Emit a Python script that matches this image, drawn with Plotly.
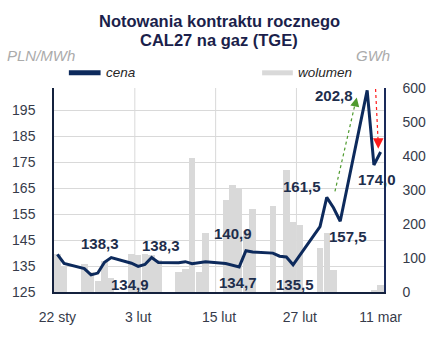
import pandas as pd
import plotly.graph_objects as go

# Sesje notowań CAL27 (dni robocze)
trade_dates = [
    "2026-01-22", "2026-01-23", "2026-01-26", "2026-01-27", "2026-01-28",
    "2026-01-29", "2026-01-30", "2026-02-02", "2026-02-03", "2026-02-04",
    "2026-02-05", "2026-02-06", "2026-02-09", "2026-02-10", "2026-02-11",
    "2026-02-12", "2026-02-13", "2026-02-16", "2026-02-17", "2026-02-18",
    "2026-02-19", "2026-02-20", "2026-02-23", "2026-02-24", "2026-02-25",
    "2026-02-26", "2026-02-27", "2026-03-02", "2026-03-03", "2026-03-04",
    "2026-03-05", "2026-03-06", "2026-03-09", "2026-03-10", "2026-03-11",
]

# cena, PLN/MWh
price = [
    139.5, 136.0, 134.0, 131.6, 132.3,
    136.5, 138.3, 136.1, 134.9, 135.6,
    138.3, 136.4, 136.3, 136.7, 135.9,
    136.3, 136.7, 136.0, 135.3, 134.7,
    140.9, 140.4, 140.0, 138.8, 138.5,
    135.5, None, 150.2, 161.5, 157.5,
    152.3, None, 202.8, 174.0, 179.0,
]

# wolumen, GWh
volume = [
    111, 77, 83, 58, 32,
    92, 40, 111, 108, 111,
    110, 95, 60, 67, 393,
    59, 173, 270, 314, 307,
    180, 244, 252, None, 358,
    207, 197, 128, 173, 65,
    None, None, None, 5, 20,
]

# etykiety osi X
tick_dates = ["2026-01-22", "2026-02-03", "2026-02-15", "2026-02-27", "2026-03-11"]
tick_text = ["22 sty", "3 lut", "15 lut", "27 lut", "11 mar"]

# sesje opisane wartością ceny
labelled = ["2026-01-30", "2026-02-03", "2026-02-05", "2026-02-19", "2026-02-18",
            "2026-02-26", "2026-03-03", "2026-03-04", "2026-03-09", "2026-03-10"]

# --- layout geometry (px) ---
W, H = 438, 337
L, R, T, B = 52, 53, 88, 34
PW, PH = W - L - R, H - T - B


def fx(px):
    return (px - L) / PW


def fy(py):
    return (H - B - py) / PH


NAVY = "#0d2a5c"
LABEL = "#1e2e4c"
TICK = "#363b4a"
GRID = "#d9d9d9"
BAR = "#d9d9d9"
FONT = "Liberation Sans"

dates = pd.to_datetime(trade_dates)
day_ms = 86400000

fig = go.Figure()

fig.add_trace(go.Bar(
    x=dates, y=volume, width=0.96 * day_ms,
    marker=dict(color=BAR, line=dict(width=0)),
    yaxis="y", showlegend=False, hoverinfo="skip",
))

fig.add_trace(go.Scatter(
    x=dates, y=price, mode="lines", connectgaps=True,
    line=dict(color=NAVY, width=3),
    yaxis="y2", showlegend=False,
))

# vertical gridlines between sessions, every 12 days
start = pd.Timestamp("2026-01-21 12:00")
for k in (1, 2, 3):
    gx = start + pd.Timedelta(days=12 * k)
    fig.add_shape(type="line", xref="x", yref="paper", x0=gx, x1=gx, y0=0, y1=1,
                  line=dict(color=GRID, width=1), layer="below")

# value labels on the price line
offsets = [(-11, 14), (-8, -18), (9, 12), (-13, 17), (-1, -16),
           (2, -20), (-25, 11), (15, -29), (-33, -5), (3, -15)]
price_by_date = dict(zip(trade_dates, price))
for d, (dx, dy) in zip(labelled, offsets):
    v = price_by_date[d]
    fig.add_annotation(
        x=pd.Timestamp(d), y=v, xref="x", yref="y2",
        text=f"{v:.1f}".replace(".", ","), showarrow=False,
        xshift=dx, yshift=dy,
        font=dict(family=FONT, size=15, color=LABEL, weight="bold"),
    )

# dotted trend arrows
fig.add_shape(type="line", xref="paper", yref="paper",
              x0=fx(335.5), y0=fy(197), x1=fx(356), y1=fy(104),
              line=dict(color="#4e9a2e", width=1.2, dash="dot"))
fig.add_annotation(xref="paper", yref="paper", x=fx(357.5), y=fy(98),
                   ax=-2, ay=9, text="", showarrow=True, arrowhead=2,
                   arrowsize=1.3, arrowwidth=1.4, arrowcolor="#4e9a2e")
fig.add_shape(type="line", xref="paper", yref="paper",
              x0=fx(376.5), y0=fy(89), x1=fx(379), y1=fy(143),
              line=dict(color="#ff1a1a", width=1.2, dash="dot"))
fig.add_annotation(xref="paper", yref="paper", x=fx(379.2), y=fy(152),
                   ax=0, ay=-9, text="", showarrow=True, arrowhead=2,
                   arrowsize=1.4, arrowwidth=1.5, arrowcolor="#ff1a1a")

# title
for txt, py in (("Notowania kontraktu rocznego", 17.5), ("CAL27 na gaz (TGE)", 37)):
    fig.add_annotation(xref="paper", yref="paper", x=fx(218.5), y=fy(py),
                       text=txt, showarrow=False, xanchor="center", yanchor="middle",
                       font=dict(family=FONT, size=16.5, color="#1b1f4b", weight="bold"))

# axis units
fig.add_annotation(xref="paper", yref="paper", x=fx(3), y=fy(54), text="PLN/MWh",
                   showarrow=False, xanchor="left", yanchor="middle",
                   font=dict(family=FONT, size=15, color="#ababab", style="italic"))
fig.add_annotation(xref="paper", yref="paper", x=fx(393), y=fy(54), text="GWh",
                   showarrow=False, xanchor="right", yanchor="middle",
                   font=dict(family=FONT, size=15, color="#ababab", style="italic"))

# legend
fig.add_shape(type="line", xref="paper", yref="paper", x0=fx(67), x1=fx(99),
              y0=fy(72), y1=fy(72), line=dict(color=NAVY, width=5))
fig.add_annotation(xref="paper", yref="paper", x=fx(102), y=fy(72), text="cena",
                   showarrow=False, xanchor="left", yanchor="middle",
                   font=dict(family=FONT, size=13.5, color="#262626", style="italic"))
fig.add_shape(type="line", xref="paper", yref="paper", x0=fx(262), x1=fx(293),
              y0=fy(72), y1=fy(72), line=dict(color=BAR, width=5))
fig.add_annotation(xref="paper", yref="paper", x=fx(296), y=fy(72), text="wolumen",
                   showarrow=False, xanchor="left", yanchor="middle",
                   font=dict(family=FONT, size=13.5, color="#262626", style="italic"))

tick_font = dict(family=FONT, size=14, color=TICK)

fig.update_layout(
    width=W, height=H,
    margin=dict(l=L, r=R, t=T, b=B, pad=0),
    paper_bgcolor="white", plot_bgcolor="white",
    bargap=0, showlegend=False,
    xaxis=dict(
        type="date",
        range=[start, pd.Timestamp("2026-03-11 12:00")],
        tickvals=pd.to_datetime(tick_dates), ticktext=tick_text,
        ticks="", showgrid=False, zeroline=False,
        showline=True, linecolor="#14213d", linewidth=1.5,
        tickfont=tick_font, ticklabelstandoff=11,
    ),
    yaxis=dict(
        side="right", range=[0, 600], tickvals=[0, 100, 200, 300, 400, 500, 600],
        showgrid=False, zeroline=False, ticks="",
        showline=True, linecolor="#1a2a5a", linewidth=1.5,
        tickfont=tick_font, ticklabelstandoff=14,
    ),
    yaxis2=dict(
        overlaying="y", side="left", range=[125, 203.7],
        tickvals=[125, 135, 145, 155, 165, 175, 185, 195],
        showgrid=True, gridcolor=GRID, gridwidth=1, zeroline=False, ticks="",
        showline=True, linecolor="#14213d", linewidth=1.5,
        tickfont=tick_font, ticklabelstandoff=14,
    ),
)

fig.write_html("out.html")
